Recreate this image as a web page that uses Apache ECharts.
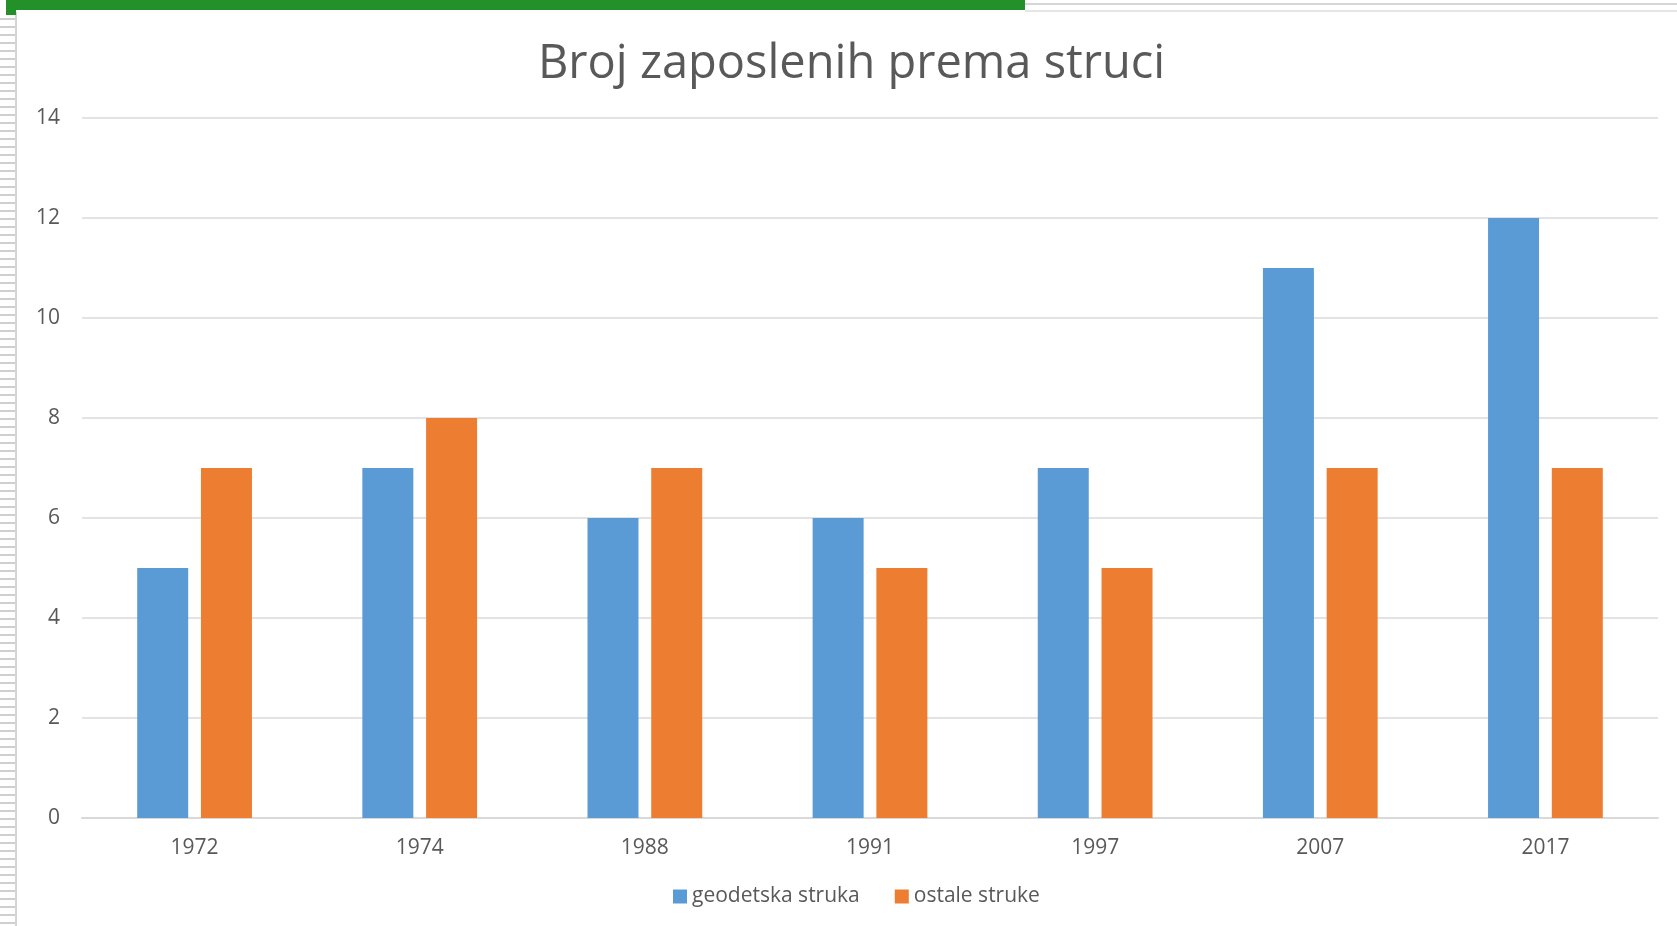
<!DOCTYPE html>
<html>
<head>
<meta charset="utf-8">
<script src="https://cdn.jsdelivr.net/npm/echarts@6/dist/echarts.min.js"></script>
<style>
  html, body { margin: 0; padding: 0; background: #fff; }
  #chart { position: absolute; left: 0; top: 0; width: 1677px; height: 926px; }
  .strip {
    position: absolute; left: 0; top: 12px; width: 15px; height: 914px;
    background: repeating-linear-gradient(to bottom, #fff 0px, #fff 6px, #cfcfcf 6px, #cfcfcf 8px);
    border-right: 2px solid #d4d4d4;
  }
  .green { position: absolute; left: 6px; top: 0; width: 1019px; height: 10px; background: #24902a; }
  .green2 { position: absolute; left: 6px; top: 10px; width: 10px; height: 5px; background: #24902a; }
  .topline1 { position: absolute; left: 1025px; top: 3px; width: 652px; height: 2px; background: #d6d6d6; }
  .topline2 { position: absolute; left: 1025px; top: 10px; width: 652px; height: 2px; background: #e6e6e6; }
</style>
</head>
<body>
<div id="chart"></div>
<div class="strip"></div>
<div class="green"></div>
<div class="green2"></div>
<div class="topline1"></div>
<div class="topline2"></div>
<script>
const years = ['1972', '1974', '1988', '1991', '1997', '2007', '2017']
const geodetska = [5, 7, 6, 6, 7, 11, 12]
const ostale = [7, 8, 7, 5, 5, 7, 7]

const font = '"Open Sans", sans-serif'
const textColor = '#595959'

let myChart = echarts.init(document.getElementById('chart'))
myChart.setOption({
  animation: false,
  title: {
    text: 'Broj zaposlenih prema struci',
    left: 538,
    top: 41,
    padding: 0,
    textStyle: { fontFamily: font, fontSize: 47, fontWeight: 'normal', color: textColor },
  },
  legend: {
    left: 673,
    top: 886,
    padding: 0,
    itemWidth: 14,
    itemHeight: 14,
    itemGap: 35,
    icon: 'rect',
    textStyle: { fontFamily: font, fontSize: 21, color: textColor },
  },
  grid: { left: 82, right: 19, top: 118, bottom: 108 },
  xAxis: {
    type: 'category',
    data: years,
    axisTick: { show: false },
    axisLine: { lineStyle: { color: '#d9d9d9', width: 2 } },
    axisLabel: { fontFamily: font, fontSize: 21, color: textColor, margin: 20 },
  },
  yAxis: {
    type: 'value',
    min: 0,
    max: 14,
    interval: 2,
    axisLabel: { fontFamily: font, fontSize: 21, color: textColor, margin: 22 },
    splitLine: { lineStyle: { color: '#e3e3e3', width: 2 } },
  },
  series: [
    {
      name: 'geodetska struka',
      type: 'bar',
      data: geodetska,
      barWidth: 51,
      barGap: '25%',
      itemStyle: { color: '#5B9BD5' },
    },
    {
      name: 'ostale struke',
      type: 'bar',
      data: ostale,
      barWidth: 51,
      barGap: '25%',
      itemStyle: { color: '#ED7D31' },
    },
  ],
})
</script>
</body>
</html>
